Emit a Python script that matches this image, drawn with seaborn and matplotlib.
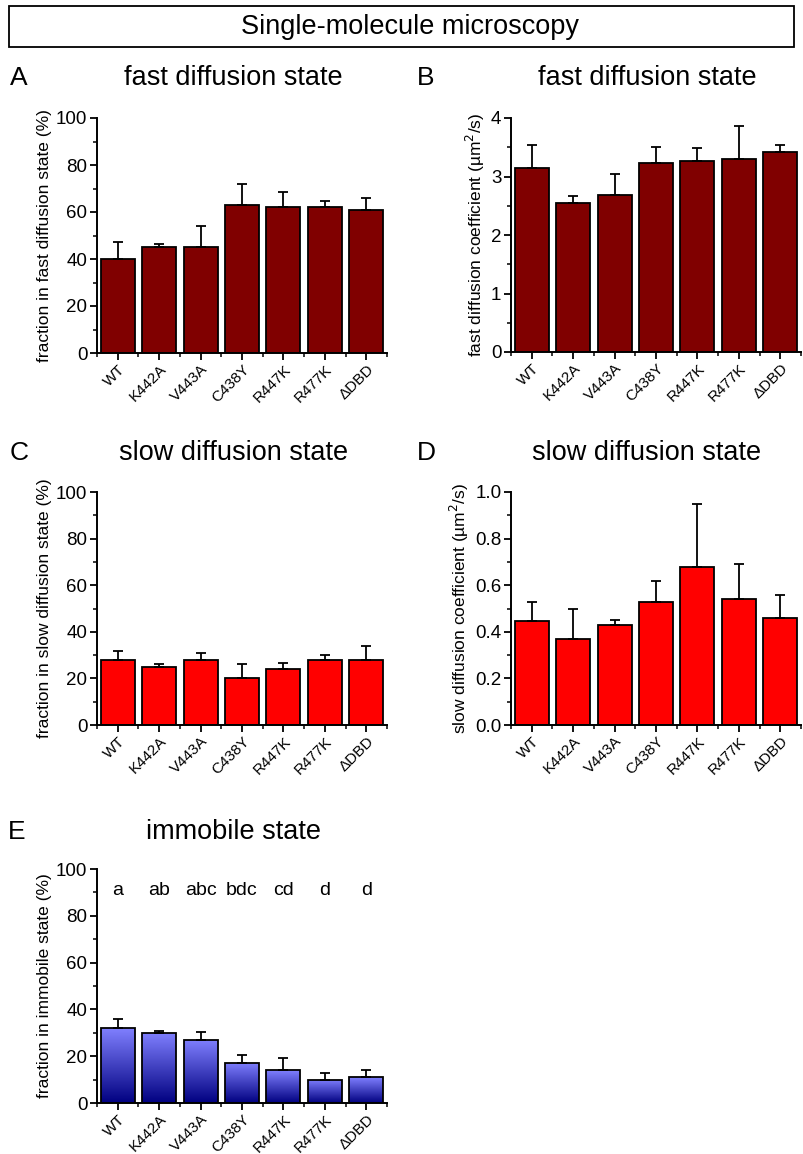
import numpy as np
import pandas as pd
from matplotlib import pyplot as plt
from matplotlib.patches import Rectangle
from matplotlib.colors import LinearSegmentedColormap
from matplotlib.ticker import MultipleLocator, FixedLocator
import seaborn as sns

sns.set_style("ticks")
plt.rcParams['font.family'] = ['Liberation Sans', 'DejaVu Sans']
plt.rcParams.update({'text.color': 'black', 'axes.labelcolor': 'black',
                     'xtick.color': 'black', 'ytick.color': 'black',
                     'axes.edgecolor': 'black'})

variants = ['WT', 'K442A', 'V443A', 'C438Y', 'R447K', 'R477K', '\u0394DBD']

fast_frac = [40.1, 45.2, 45.2, 63.0, 62.0, 62.0, 60.9]
fast_frac_err = [7.0, 1.0, 8.7, 8.9, 6.5, 2.5, 5.2]

fast_coef = [3.14, 2.54, 2.69, 3.23, 3.26, 3.30, 3.42]
fast_coef_err = [0.40, 0.13, 0.36, 0.27, 0.23, 0.57, 0.11]

slow_frac = [28.0, 24.9, 28.0, 20.0, 24.0, 28.0, 28.0]
slow_frac_err = [3.7, 1.1, 3.1, 6.0, 2.6, 1.9, 5.7]

slow_coef = [0.447, 0.367, 0.429, 0.529, 0.680, 0.539, 0.459]
slow_coef_err = [0.082, 0.132, 0.020, 0.087, 0.267, 0.151, 0.101]

immobile_frac = [32.0, 30.0, 27.0, 17.1, 14.0, 10.0, 11.1]
immobile_frac_err = [3.9, 0.6, 3.4, 3.6, 5.4, 2.7, 3.0]
immobile_letters = ['a', 'ab', 'abc', 'bdc', 'cd', 'd', 'd']

W, H = 804, 1154
fig = plt.figure(figsize=(W / 100, H / 100), dpi=100)


def px_axes(left, top, right, bottom):
    return fig.add_axes([left / W, 1 - bottom / H, (right - left) / W, (bottom - top) / H])


def bar_panel(ax, vals, errs, color, ylim, major, minor, ylabel):
    df = pd.DataFrame({'variant': variants, 'value': vals})
    sns.barplot(data=df, x='variant', y='value', color=color, saturation=1,
                edgecolor='black', linewidth=1.3, width=0.82, errorbar=None, ax=ax)
    ax.errorbar(np.arange(len(vals)), vals, yerr=[np.zeros(len(vals)), errs],
                fmt='none', ecolor='black', elinewidth=1.3, capsize=3.5, capthick=1.3, zorder=3)
    ax.set_xlim(-0.5, len(vals) - 0.5)
    ax.set_ylim(*ylim)
    ax.yaxis.set_major_locator(MultipleLocator(major))
    ax.yaxis.set_minor_locator(MultipleLocator(minor))
    ax.xaxis.set_minor_locator(FixedLocator(np.arange(-0.5, len(vals), 1.0)))
    ax.set_xlabel('')
    ax.set_ylabel(ylabel, fontsize=12.5, labelpad=3)
    ax.tick_params(axis='both', which='major', direction='out', length=5, width=1.3, labelsize=13.5, pad=2)
    ax.tick_params(axis='both', which='minor', direction='out', length=3, width=1.1)
    ax.tick_params(axis='x', labelsize=11, pad=1.5)
    plt.setp(ax.get_xticklabels(), rotation=45, ha='right', rotation_mode='anchor')
    for s in ['left', 'bottom']:
        ax.spines[s].set_linewidth(1.4)
    sns.despine(ax=ax)


def gradient_bars(ax):
    # light blue at the top of each bar fading to navy at the base
    cmap = LinearSegmentedColormap.from_list('blu', ['#000080', '#8080ff'])
    grad = np.linspace(1, 0, 256).reshape(-1, 1)
    xl, yl = ax.get_xlim(), ax.get_ylim()
    for p in ax.patches:
        x, y, w, h = p.get_x(), p.get_y(), p.get_width(), p.get_height()
        im = ax.imshow(grad, extent=[x, x + w, y, y + h], aspect='auto', cmap=cmap,
                       origin='upper', zorder=0.9)
        im.set_clip_path(p)
        p.set_facecolor('none')
    ax.set_xlim(xl)
    ax.set_ylim(yl)


# header box
fig.patches.append(Rectangle((9 / W, 1 - 47 / H), 785 / W, 41 / H, transform=fig.transFigure,
                             fill=False, edgecolor='black', linewidth=1.3))
fig.text(410 / W, 1 - 27 / H, 'Single-molecule microscopy', ha='center', va='center', fontsize=19.5)

axA = px_axes(97, 118, 387, 353)
bar_panel(axA, fast_frac, fast_frac_err, '#800000', (0, 100), 20, 10,
          'fraction in fast diffusion state (%)')
axB = px_axes(511, 118, 801, 352)
bar_panel(axB, fast_coef, fast_coef_err, '#800000', (0, 4), 1, 0.5,
          'fast diffusion coefficient (\u00b5m$^2$/s)')
axC = px_axes(97, 492, 387, 725)
bar_panel(axC, slow_frac, slow_frac_err, '#ff0000', (0, 100), 20, 10,
          'fraction in slow diffusion state (%)')
axD = px_axes(511, 492, 801, 725)
bar_panel(axD, slow_coef, slow_coef_err, '#ff0000', (0, 1.0), 0.2, 0.1,
          'slow diffusion coefficient (\u00b5m$^2$/s)')
axD.yaxis.set_major_formatter(plt.FormatStrFormatter('%.1f'))
axE = px_axes(97, 869, 387, 1103)
bar_panel(axE, immobile_frac, immobile_frac_err, '#8080ff', (0, 100), 20, 10,
          'fraction in immobile state (%)')
gradient_bars(axE)
for i, lab in enumerate(immobile_letters):
    axE.text(i, 91, lab, ha='center', va='center', fontsize=14)

# panel titles and letters
titles = [('A', 19, 233, 78, 'fast diffusion state'),
          ('B', 426, 647, 78, 'fast diffusion state'),
          ('C', 19, 234, 453, 'slow diffusion state'),
          ('D', 426, 647, 453, 'slow diffusion state'),
          ('E', 17, 234, 832, 'immobile state')]
for letter, lx, tx, ty, t in titles:
    fig.text(lx / W, 1 - ty / H, letter, ha='center', va='center', fontsize=19)
    fig.text(tx / W, 1 - ty / H, t, ha='center', va='center', fontsize=19.5)

fig.savefig('out.png', dpi=100)
